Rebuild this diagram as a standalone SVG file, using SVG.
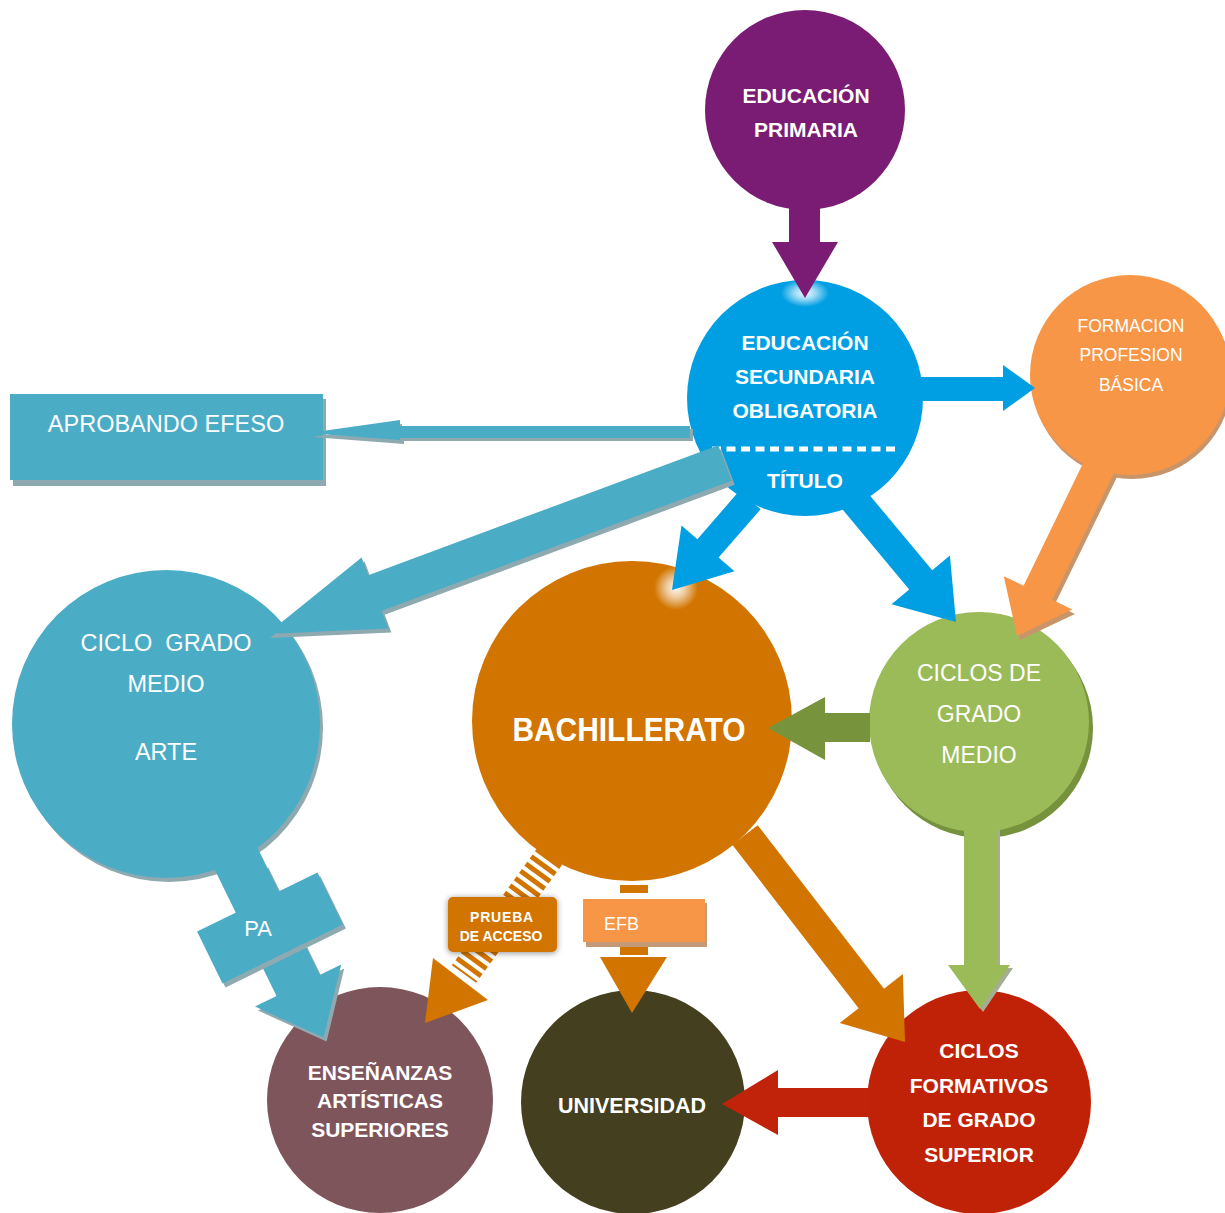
<svg xmlns="http://www.w3.org/2000/svg" width="1225" height="1213" viewBox="0 0 1225 1213">
<defs>
<style>
.din{font-family:"Liberation Sans",Arial,sans-serif;font-weight:bold;fill:#fff;text-anchor:middle}
.cal{font-family:"Liberation Sans",Arial,sans-serif;fill:#fff;text-anchor:middle}
.teal{fill:#4BACC6}
.tshadow{fill:#8FA9B1}
</style>
<radialGradient id="glow" cx="0.5" cy="0.5" r="0.5">
<stop offset="0" stop-color="#fff" stop-opacity="0.95"/>
<stop offset="0.45" stop-color="#fff" stop-opacity="0.6"/>
<stop offset="1" stop-color="#fff" stop-opacity="0"/>
</radialGradient>
<filter id="soft" x="-20%" y="-20%" width="140%" height="140%">
<feGaussianBlur in="SourceAlpha" stdDeviation="3"/>
<feOffset dx="0" dy="1" result="b"/>
<feComponentTransfer><feFuncA type="linear" slope="0.45"/></feComponentTransfer>
<feMerge><feMergeNode/><feMergeNode in="SourceGraphic"/></feMerge>
</filter>
</defs>
<rect width="1225" height="1213" fill="#fff"/>

<g id="node-primaria">
<circle cx="805" cy="110" r="100" fill="#7B1C74"/>
<text class="din" x="806" y="103" font-size="21">EDUCACIÓN</text>
<text class="din" x="806" y="137" font-size="21">PRIMARIA</text>
</g>

<g id="node-eso">
<circle cx="805" cy="398" r="118" fill="#009FE3"/>
<ellipse cx="805" cy="293" rx="24" ry="14" fill="url(#glow)"/>
<text class="din" x="805" y="350" font-size="21">EDUCACIÓN</text>
<text class="din" x="805" y="384" font-size="21">SECUNDARIA</text>
<text class="din" x="805" y="418" font-size="21">OBLIGATORIA</text>
<line x1="712" y1="449" x2="898" y2="449" stroke="#fff" stroke-width="5" stroke-dasharray="9 5.5"/>
<text class="din" x="805" y="488" font-size="21">TÍTULO</text>
</g>

<g id="node-fpb">
<circle cx="1132" cy="379" r="100" fill="#C8956A"/>
<circle cx="1130" cy="375" r="100" fill="#F79646"/>
<text class="cal" x="1131" y="332" font-size="17.5">FORMACION</text>
<text class="cal" x="1131" y="361" font-size="17.5">PROFESION</text>
<text class="cal" x="1131" y="391" font-size="17.5">BÁSICA</text>
</g>

<g id="node-aprobando">
<rect x="13" y="399" width="313" height="87" class="tshadow"/>
<rect x="10" y="394" width="313" height="86" class="teal"/>
<text class="cal" x="166" y="432" font-size="23.5">APROBANDO EFESO</text>
</g>

<g id="node-cgm-arte">
<circle cx="169" cy="728" r="154" class="tshadow"/>
<circle cx="166" cy="724" r="154" class="teal"/>
<text class="cal" x="166" y="651" font-size="23.5" xml:space="preserve">CICLO  GRADO</text>
<text class="cal" x="166" y="692" font-size="23.5">MEDIO</text>
<text class="cal" x="166" y="760" font-size="23.5">ARTE</text>
</g>

<g id="node-bachillerato">
<circle cx="632" cy="721" r="160" fill="#D27500"/>
<circle cx="676" cy="588" r="22" fill="url(#glow)"/>
<text class="din" font-size="34" transform="translate(629 741) scale(0.88 1)">BACHILLERATO</text>
</g>

<g id="node-cgm">
<circle cx="983" cy="728" r="110" fill="#76923C"/>
<circle cx="979" cy="722" r="110" fill="#9BBB59"/>
<text class="cal" x="979" y="681" font-size="23">CICLOS DE</text>
<text class="cal" x="979" y="722" font-size="23">GRADO</text>
<text class="cal" x="979" y="763" font-size="23">MEDIO</text>
</g>

<g id="node-esa">
<circle cx="380" cy="1100" r="113" fill="#7F555C"/>
<text class="din" x="380" y="1080" font-size="21">ENSEÑANZAS</text>
<text class="din" x="380" y="1108" font-size="21">ARTÍSTICAS</text>
<text class="din" x="380" y="1137" font-size="21">SUPERIORES</text>
</g>

<g id="node-universidad">
<circle cx="633" cy="1102" r="112" fill="#443F1E"/>
<text class="din" x="632" y="1113" font-size="21.5">UNIVERSIDAD</text>
</g>

<g id="node-cfgs">
<circle cx="979" cy="1102" r="112" fill="#BF2207"/>
<text class="din" x="979" y="1058" font-size="21">CICLOS</text>
<text class="din" x="979" y="1093" font-size="21">FORMATIVOS</text>
<text class="din" x="979" y="1127" font-size="21">DE GRADO</text>
<text class="din" x="979" y="1162" font-size="21">SUPERIOR</text>
</g>

<g id="connectors">
<!-- primaria -> eso -->
<polygon points="789,200 820,200 820,242 838,242 805,298 772,242 789,242" fill="#7B1C74"/>
<!-- eso -> fpb -->
<polygon points="915,377 1003,377 1003,365 1035,388 1003,411 1003,401 915,401" fill="#009FE3"/>
<!-- eso -> bachillerato -->
<polygon points="739.4,490.8 697.4,539.2 681.5,525.5 672,590 734.5,571.3 718.6,557.6 760.6,509.2" fill="#009FE3"/>
<!-- eso -> cgm -->
<polygon points="838.5,504.6 909.2,589.4 891.5,604.2 956,622 949.9,555.4 932.2,570.2 861.5,485.4" fill="#009FE3"/>
<!-- eso -> aprobando -->
<polygon points="693,429 402,429 402,424 312,437 404,444 404,441 693,441" class="tshadow"/>
<polygon points="690,426 400,426 400,420 308,433 400,440 400,438 690,438" class="teal"/>
<!-- eso -> ciclo grado medio arte -->
<polygon points="721.3,449.2 371.3,579.2 364.6,561.4 270,638 391.4,632.6 384.7,614.8 734.7,484.8" class="tshadow"/>
<polygon points="718.3,445.2 368.3,575.2 361.6,557.4 267,634 388.4,628.6 381.7,610.8 731.7,480.8" class="teal"/>
<!-- fpb -> cgm -->
<polygon points="1088,463 1026,590 1007,581 1020,640 1075,614 1055,604 1117,477" fill="#C8956A"/>
<polygon points="1085.6,458 1023.6,585.8 1003.8,576.2 1017,636 1072.2,609.4 1052.4,599.8 1114.4,472" fill="#F79646"/>
<!-- cgm -> bachillerato -->
<polygon points="870,713 825,713 825,697 768,728 825,760 825,742 870,742" fill="#77933C"/>
<!-- cgm -> cfgs -->
<polygon points="968,830 1000,830 1000,968 1013,968 983,1012 951,968 968,968" fill="#A3AE95"/>
<polygon points="964,828 997,828 997,965 1010,965 980,1009 948,965 964,965" fill="#9BBB59"/>
<!-- cfgs -> universidad -->
<polygon points="870,1088 778,1088 778,1070 722,1104 778,1135 778,1117 870,1117" fill="#C0220A"/>
<!-- bachillerato -> cfgs -->
<polygon points="732.3,844.8 858.6,1008.3 839.7,1023 905,1042 902.9,974 884,988.7 757.7,825.2" fill="#D27500"/>
<!-- bachillerato -> esa (prueba de acceso) -->
<line x1="550" y1="856" x2="464" y2="974" stroke="#D27500" stroke-width="30" stroke-dasharray="5 4"/>
<polygon points="433,958 488,1000 425,1023" fill="#D27500"/>
<!-- bachillerato -> universidad (EFB) -->
<rect x="620" y="885" width="28" height="8" fill="#D27500"/>
<rect x="620" y="947" width="28" height="8" fill="#D27500"/>
<polygon points="600,957 667,957 632,1013" fill="#D27500"/>
<!-- cgm arte -> esa (PA) -->
<polygon points="225.1,888.6 279.5,1000 258,1010.6 326.6,1041.6 344.2,968.4 322.7,979 268.3,867.6" class="tshadow"/>
<polygon points="200.1,839.7 276.5,996 255,1006.6 323.6,1037.6 341.2,964.4 319.7,975 243.3,818.7" class="teal"/>
<polygon points="200.1,935.4 225.5,987.4 345.9,928.6 320.5,876.6" class="tshadow"/>
<polygon points="197.1,931.4 222.5,983.4 342.9,924.6 317.5,872.6" class="teal"/>
<text class="cal" x="258" y="936" font-size="22">PA</text>
<!-- labels -->
<g id="label-prueba">
<rect x="448" y="897" width="109" height="55" rx="5" fill="#D27500" filter="url(#soft)"/>
<text class="din" x="502" y="922" font-size="14" letter-spacing="0.8">PRUEBA</text>
<text class="din" x="501" y="941" font-size="14">DE ACCESO</text>
</g>
<g id="label-efb">
<rect x="586" y="903" width="121" height="44" fill="#C39A78"/>
<rect x="583" y="899" width="122" height="43" fill="#F79646"/>
<text class="cal" x="604" y="930" font-size="18" style="text-anchor:start">EFB</text>
</g>
</g>
</svg>
